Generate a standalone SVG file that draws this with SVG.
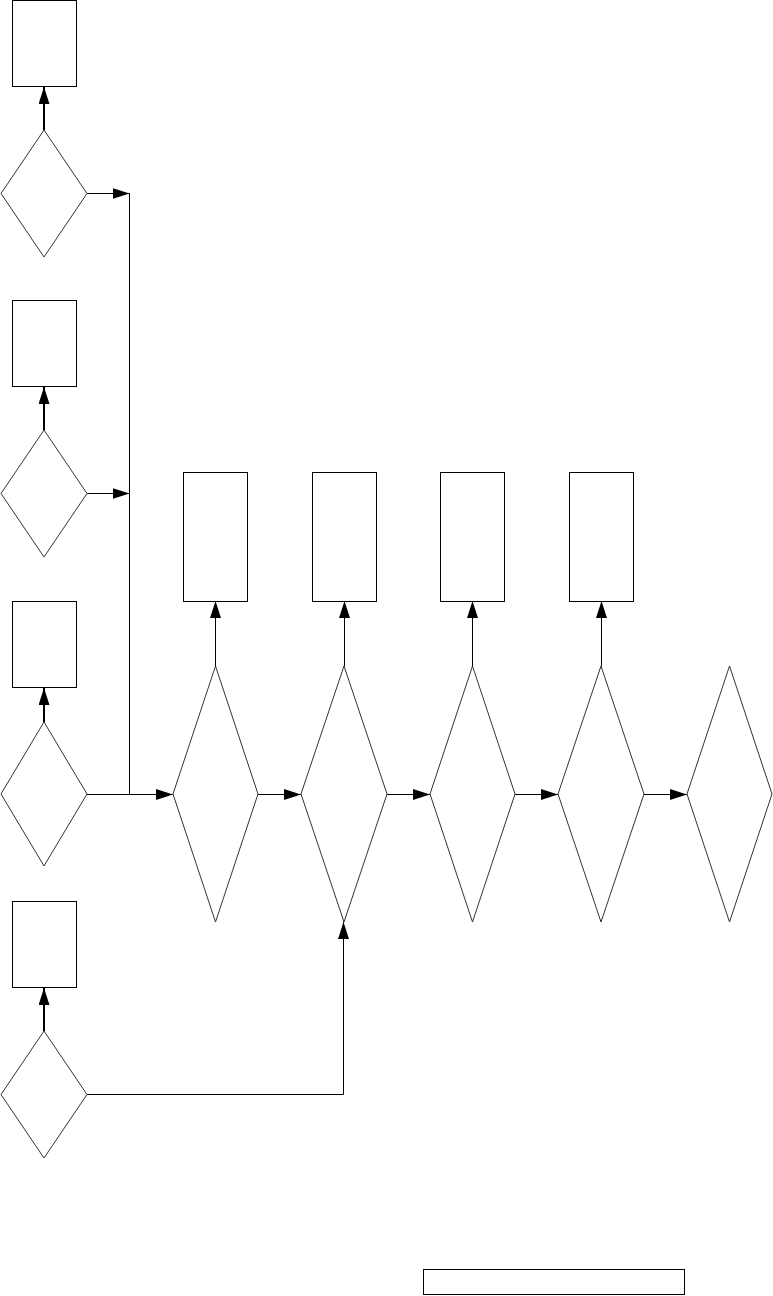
<svg xmlns="http://www.w3.org/2000/svg" width="773" height="1296" viewBox="0 0 773 1296">
<style>
.box{fill:#fff;stroke:#000;stroke-width:1}
.dia{fill:#fff;stroke:#333;stroke-width:1}
.thick{fill:none;stroke:#000;stroke-width:2}
.thin{fill:none;stroke:#000;stroke-width:1}
</style>
<defs>
<marker id="ah" markerUnits="userSpaceOnUse" markerWidth="17" markerHeight="11" refX="17" refY="5.5" orient="auto">
<path d="M0,0 L17,5.5 L0,11 z" fill="#000"/>
</marker>
</defs>
<rect width="773" height="1296" fill="#fff"/>
<g id="connectors">
<line class="thick" x1="44" y1="130" x2="44" y2="87" marker-end="url(#ah)"/>
<line class="thick" x1="44" y1="430" x2="44" y2="387" marker-end="url(#ah)"/>
<line class="thick" x1="44" y1="722" x2="44" y2="688" marker-end="url(#ah)"/>
<line class="thick" x1="44" y1="1031" x2="44" y2="988" marker-end="url(#ah)"/>
<line class="thin" x1="87" y1="193.5" x2="129.5" y2="193.5" marker-end="url(#ah)"/>
<line class="thin" x1="87" y1="493.5" x2="129.5" y2="493.5" marker-end="url(#ah)"/>
<line class="thin" x1="129.5" y1="193" x2="129.5" y2="794"/>
<line class="thin" x1="87" y1="794.5" x2="173" y2="794.5" marker-end="url(#ah)"/>
<line class="thin" x1="258" y1="794.5" x2="301" y2="794.5" marker-end="url(#ah)"/>
<line class="thin" x1="387" y1="794.5" x2="430" y2="794.5" marker-end="url(#ah)"/>
<line class="thin" x1="515" y1="794.5" x2="558" y2="794.5" marker-end="url(#ah)"/>
<line class="thin" x1="644" y1="794.5" x2="687" y2="794.5" marker-end="url(#ah)"/>
<line class="thin" x1="215.5" y1="666" x2="215.5" y2="601" marker-end="url(#ah)"/>
<line class="thin" x1="344.5" y1="666" x2="344.5" y2="601" marker-end="url(#ah)"/>
<line class="thin" x1="472.5" y1="666" x2="472.5" y2="601" marker-end="url(#ah)"/>
<line class="thin" x1="601.5" y1="666" x2="601.5" y2="601" marker-end="url(#ah)"/>
<polyline class="thin" points="87,1094.5 343.5,1094.5 343.5,922" marker-end="url(#ah)"/>
</g>
<g id="r1"><rect class="box" x="12.5" y="0.5" width="64" height="86"/></g>
<g id="r2"><rect class="box" x="12.5" y="300.5" width="64" height="86"/></g>
<g id="r3"><rect class="box" x="12.5" y="601.5" width="64" height="86"/></g>
<g id="r4"><rect class="box" x="12.5" y="901.5" width="64" height="86"/></g>
<g id="d1"><polygon class="dia" points="44,130 87,193.5 44,257 1,193.5"/></g>
<g id="d2"><polygon class="dia" points="44,430 87,493.5 44,557 1,493.5"/></g>
<g id="d3"><polygon class="dia" points="44,722 87,794 44,866 1,794"/></g>
<g id="d4"><polygon class="dia" points="44,1031 87,1094.5 44,1158 1,1094.5"/></g>
<g id="ra"><rect class="box" x="183.5" y="472.5" width="64" height="129"/></g>
<g id="rb"><rect class="box" x="312.5" y="472.5" width="64" height="129"/></g>
<g id="rc"><rect class="box" x="440.5" y="472.5" width="64" height="129"/></g>
<g id="rd"><rect class="box" x="569.5" y="472.5" width="64" height="129"/></g>
<g id="da"><polygon class="dia" points="215.5,666 258,794 215.5,922 173,794"/></g>
<g id="db"><polygon class="dia" points="344,666 387,794 344,922 301,794"/></g>
<g id="dc"><polygon class="dia" points="472.5,666 515,794 472.5,922 430,794"/></g>
<g id="dd"><polygon class="dia" points="601,666 644,794 601,922 558,794"/></g>
<g id="de"><polygon class="dia" points="729.5,666 772,794 729.5,922 687,794"/></g>
<g id="legend"><rect class="box" x="423.5" y="1269.5" width="261" height="25"/></g>
</svg>
